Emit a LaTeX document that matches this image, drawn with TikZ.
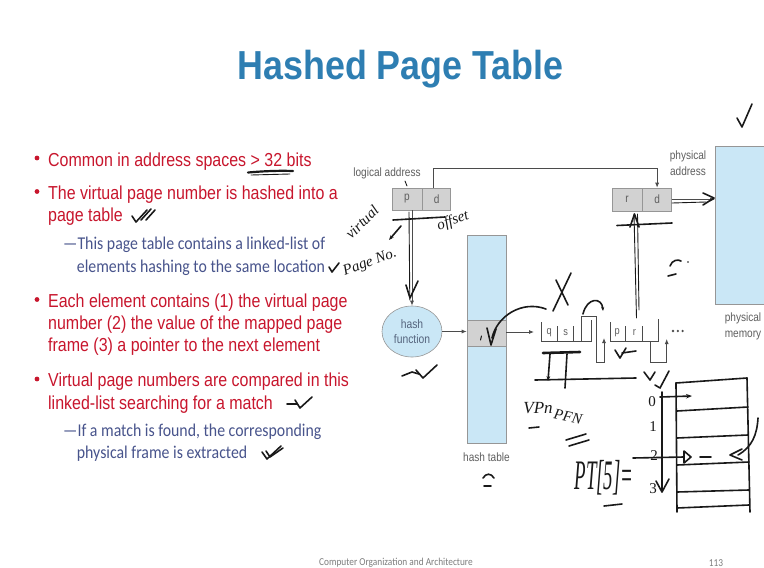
\documentclass[tikz,border=0pt]{standalone}
\usepackage{fontspec}
\setmainfont{Liberation Sans}
\newfontfamily\titlefont{Liberation Sans}[FakeStretch=0.885]
\newfontfamily\bulletfont{Liberation Sans}[FakeStretch=0.85]
\newfontfamily\subfont{Carlito}[FakeStretch=0.88]
\newfontfamily\diafont{Liberation Sans}[FakeStretch=0.84]
\newfontfamily\handfont{Liberation Serif}
\newfontfamily\handnarrow{Liberation Serif}[FakeStretch=0.45]
\usetikzlibrary{arrows.meta,shapes.geometric}

\definecolor{titleblue}{RGB}{46,126,178}
\definecolor{bulletred}{RGB}{200,22,45}
\definecolor{subblue}{RGB}{72,84,140}
\definecolor{memblue}{RGB}{202,231,246}
\definecolor{cellgray}{RGB}{210,210,210}
\definecolor{boxgray}{RGB}{150,150,150}
\definecolor{linkgray}{RGB}{75,75,75}
\definecolor{labelgray}{RGB}{95,95,95}
\definecolor{hashtext}{RGB}{85,100,125}
\definecolor{inkblack}{RGB}{25,25,25}
\definecolor{footgray}{RGB}{125,125,125}

\tikzset{
  bullettext/.style={anchor=base west, inner sep=0pt, text=bulletred,
    font=\bulletfont\fontsize{18.8}{22}\selectfont},
  subtext/.style={anchor=base west, inner sep=0pt, text=subblue,
    font=\subfont\fontsize{18}{21}\selectfont},
  cellbox/.style={draw=boxgray, fill=cellgray, line width=0.6pt, inner sep=0pt,
    text=labelgray, font=\diafont\fontsize{12}{13}\selectfont},
  bluebox/.style={draw=boxgray, fill=memblue, line width=0.6pt, inner sep=0pt},
  link/.style={draw=linkgray, line width=0.8pt},
  linkarrow/.style={link, -{Latex[length=5pt,width=4pt]}},
  dialabel/.style={inner sep=0pt, text=labelgray, align=center,
    font=\diafont\fontsize{12}{15.5}\selectfont},
  fieldlabel/.style={inner sep=0pt, text=labelgray,
    font=\diafont\fontsize{11}{12}\selectfont},
  ink/.style={draw=inkblack, line width=1.6pt, line cap=round, line join=round},
  handtext/.style={inner sep=0pt, text=inkblack,
    font=\handfont\itshape\fontsize{15}{16}\selectfont},
  handdigit/.style={inner sep=0pt, text=inkblack,
    font=\handfont\fontsize{15}{16}\selectfont},
}

\begin{document}
\begin{tikzpicture}[x=1pt,y=-1pt]
\useasboundingbox (0,0) rectangle (764,568);
\clip (0,0) rectangle (764,568);
\fill[white] (0,0) rectangle (764,568);

% ---------- title ----------
\node[anchor=base, inner sep=0pt, text=titleblue,
  font=\titlefont\bfseries\fontsize{40.5}{48}\selectfont] (title) at (400.5,79.3) {Hashed Page Table};

% ---------- bullet list ----------
\foreach \yy in {158,191.5,299.5,379}{\fill[bulletred] (37,\yy) circle (2.4);}
\node[bullettext] (b1) at (48,166) {Common in address spaces > 32 bits};
\node[bullettext] (b2a) at (48,199.3) {The virtual page number is hashed into a};
\node[bullettext] (b2b) at (48,221.7) {page table};
\node[subtext] (s1a) at (63,249) {—This page table contains a linked-list of};
\node[subtext] (s1b) at (76.7,272.3) {elements hashing to the same location};
\node[bullettext] (b3a) at (48,307.3) {Each element contains (1) the virtual page};
\node[bullettext] (b3b) at (48,329.3) {number (2) the value of the mapped page};
\node[bullettext] (b3c) at (48,351.7) {frame (3) a pointer to the next element};
\node[bullettext] (b4a) at (48,386.7) {Virtual page numbers are compared in this};
\node[bullettext] (b4b) at (48,409.3) {linked-list searching for a match};
\node[subtext] (s2a) at (63,436) {—If a match is found, the corresponding};
\node[subtext] (s2b) at (76.7,458.3) {physical frame is extracted};

% ---------- footer ----------
\node[inner sep=0pt, text=footgray, font=\subfont\fontsize{10.6}{12}\selectfont] (foot) at (396,562.7) {Computer Organization and Architecture};
\node[inner sep=0pt, text=footgray, font=\subfont\fontsize{10.6}{12}\selectfont] (pageno) at (716,562.7) {113};

% ---------- logical / physical address ----------
\node[dialabel] (lalabel) at (387,173) {logical address};
\node[cellbox, minimum width=30pt, minimum height=22pt] (lp) at (407,199) {p};
\node[cellbox, minimum width=28pt, minimum height=22pt, anchor=west] (ld) at (lp.east) {d};

\node[cellbox, minimum width=30pt, minimum height=23pt] (pr) at (627,199.5) {r};
\node[cellbox, minimum width=29pt, minimum height=23pt, anchor=west] (pd) at (pr.east) {d};
\node[dialabel] (palabel) at (688,163) {physical\\address};

\node[bluebox, anchor=north west, minimum width=70pt, minimum height=158pt] (mem) at (715,146) {};
\node[dialabel] (pmlabel) at (743,326.5) {physical\\memory};

\draw[linkarrow] ([xshift=-3pt]ld.north) -- ++(0,-19) -| (pd.north);
\draw[linkarrow] (pd.east) -- (pd.east -| mem.west);

% ---------- hash function and hash table ----------
\node[ellipse, bluebox, minimum width=60pt, minimum height=51pt, align=center,
  text=hashtext, font=\diafont\fontsize{12.3}{15}\selectfont] (hf) at (412,331.5) {hash\\function};
\draw[linkarrow] (hf.north |- lp.south) -- (hf.north);

\node[bluebox, minimum width=39pt, minimum height=208pt] (ht) at (486.5,339) {};
\node[cellbox, minimum width=39pt, minimum height=26pt] (he) at (486.5,333) {};
\node[dialabel, anchor=base] (htlabel) at (486.5,461) {hash table};
\draw[linkarrow] (hf.east) -- (hf.east -| he.west);

% ---------- chained elements ----------
\coordinate (e1in) at (534,332);
\draw[linkarrow] (he.east |- e1in) -- (e1in);
% first element  q | s | next
\draw[link] (541.7,322) -- (541.7,341.7) -- (591.7,341.7);
\draw[link] (557.3,326) -- (557.3,341.7);
\draw[link] (573.3,326) -- (573.3,341.7);
\draw[link] (591.7,320) -- (591.7,341.7);
\node[fieldlabel] (fq) at (549.3,332.7) {q};
\node[fieldlabel] (fs) at (565.6,332.7) {s};
\coordinate (e2in) at (604,338);
\draw[link] (581.7,341.7) -- (581.7,316) -- (596.7,316) -- (596.7,362.7) -- (604,362.7);
\draw[linkarrow] (604,362.7) -- (e2in);
% second element  p | r | next
\draw[link] (610,322) -- (610,341.7) -- (658.3,341.7);
\draw[link] (625,326) -- (625,341.7);
\draw[link] (642.7,326) -- (642.7,341.7);
\draw[link] (658.3,319) -- (658.3,341.7);
\node[fieldlabel] (fp) at (617.3,333) {p};
\node[fieldlabel] (fr) at (634.3,333) {r};
\coordinate (e3in) at (666.7,339);
\draw[link] (650,341.7) -- (650,362.7) -- (666.7,362.7);
\draw[linkarrow] (666.7,362.7) -- (e3in);
\foreach \xx in {673,677.8,682.6}{\fill[linkgray] (\xx,331) circle (1.3);}

% ---------- handwritten annotations ----------
% underline of "32 bits"
\draw[ink, line width=2.2pt] (248,172.5) .. controls (265,171) and (280,170.5) .. (293,171);
\draw[ink, line width=0.9pt] (251,175) -- (290,174);
% ticks beside the bullets
\draw[ink] (132,216) -- (136,222) -- (147,210);
\draw[ink] (141,220) -- (151,209);
\draw[ink] (146,220) -- (155,210);
\draw[ink] (329,267) -- (332,272) -- (339,263);
\draw[ink] (287,404) -- (297,404);
\draw[ink] (295,400) -- (300,408) -- (312,397);
\draw[ink] (262,452) -- (267,459) -- (281,446);
\draw[ink] (266,451) -- (270,457) -- (283,448);

% notes at the logical address
\draw[ink, line width=0.9pt] (405,181) -- (407,186);
\node[handtext, rotate=45] (hvirt) at (362,222) {virtual};
\node[handtext, rotate=20] (hpage) at (370,263) {Page No.};
\draw[ink, -{Stealth[length=5pt]}] (401,226) -- (389,240);
\draw[ink] (393,220) -- (445,217);
\node[handtext, rotate=20] (hoff) at (453,221) {offset};
\draw[ink, line width=0.9pt] (409,212) -- (409.8,300);
\draw[ink] (406,285) -- (410,298) -- (418,281);

% notes at the physical address
\draw[ink, line width=0.9pt] (634,214) -- (636.5,318);
\draw[ink, line width=0.9pt] (637.5,214) -- (639,310);
\draw[ink] (630,227) -- (634.5,214) -- (639,227);
\draw[ink] (617,225.5) -- (672,223);
\draw[ink] (670,266) .. controls (672,260) and (678,259) .. (681,261);
\draw[ink] (668,276) -- (676,274);
\fill[inkblack] (688,262) circle (0.9);
\draw[ink, line width=0.9pt] (672,203) -- (706,202);
\draw[ink] (703,193) -- (714,198) -- (703,205);
\draw[ink] (737,118) -- (742,127) -- (752,104);

% notes at the hash function and hash table
\draw[ink] (402,376) -- (412,372) -- (419,374);
\draw[ink] (416,370) -- (423,378) -- (437,365);
\draw[ink] (483,478) .. controls (486,473) and (491,473) .. (494,478);
\draw[ink] (484,486) -- (491,486);
\draw[ink, line width=1pt] (481.5,336) -- (480.5,340);
\draw[ink] (487,328) -- (491,345) -- (496,329);
\draw[ink] (492,338) .. controls (497,316) and (522,300) .. (546,309);

% notes at the chain
\draw[ink] (556,280) -- (568,305);
\draw[ink] (571,273) -- (553,311);
\draw[ink, -{Stealth[length=4pt]}] (583,314) .. controls (587,297) and (602,297) .. (603,311);
\draw[ink, line width=2.6pt] (543,353) -- (580,352);
\draw[ink, -{Stealth[length=5pt]}] (550,354) -- (548,381);
\draw[ink] (567,354) -- (565,388);
\draw[ink] (535,380) -- (636,378);
\draw[ink] (615,350) -- (620,358) -- (626,348);
\draw[ink] (622,353) -- (636,351);
\node[handtext, font=\handfont\itshape\fontsize{17}{18}\selectfont] (hvpn) at (538,408) {VPn};
\draw[ink] (529,428) -- (539,427);
\node[handtext, rotate=-12] (hpfn) at (568,417) {PFN};
\draw[ink] (566,440) -- (586,434);
\draw[ink] (569,446) -- (589,440);

% page table sketch
\draw[ink] (644,372) -- (650,380) -- (655,372);
\draw[ink] (655,385) -- (660,388) -- (669,371);
\draw[ink] (676,383) -- (747,378);
\draw[ink] (676,383) -- (677,512);
\draw[ink] (747,378) -- (750,512);
\draw[ink] (677,411) -- (748,407);
\draw[ink] (677,438) -- (748,435);
\draw[ink] (677,465) -- (749,462);
\draw[ink] (677,492) -- (749,490);
\draw[ink] (677,508) -- (749,505);
\node[handdigit] (r0) at (652,402) {0};
\node[handdigit] (r1) at (653,427) {1};
\node[handdigit] (r2) at (654,456) {2};
\node[handdigit] (r3) at (653,489) {3};
\draw[ink] (662,392) -- (662,491);
\draw[ink] (656,481) -- (662,492) -- (669,479);
\draw[ink, -{Stealth[length=6pt]}] (660,397) -- (692,396);
\draw[ink] (633,458) -- (684,457);
\draw[ink] (684,451) -- (691,457) -- (684,463) -- cycle;
\draw[ink] (700,457) -- (711,457);
\draw[ink] (742,449) -- (730,455) -- (742,460);
\draw[ink] (758,418) .. controls (757,435) and (752,447) .. (738,455);
\node[inner sep=0pt, text=inkblack, font=\handnarrow\itshape\fontsize{42}{44}\selectfont] (hpt) at (604,478) {PT[5]=};
\draw[ink] (604,506) -- (622,504);
\end{tikzpicture}
\end{document}
